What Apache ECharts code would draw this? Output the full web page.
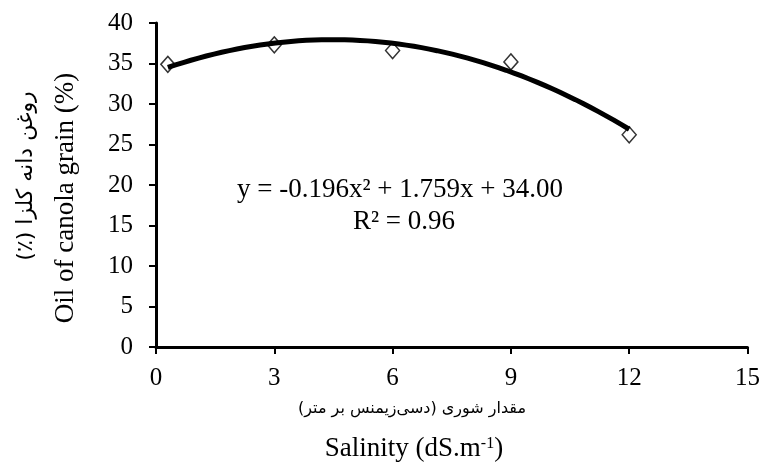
<!DOCTYPE html>
<html>
<head>
<meta charset="utf-8">
<script src="https://cdn.jsdelivr.net/npm/echarts@6/dist/echarts.min.js"></script>
<style>html,body{margin:0;padding:0;background:#fff}#c{width:763px;height:472px}</style>
</head>
<body>
<div id="c"></div>
<script>
const salinity = [0.3, 3, 6, 9, 12];
const oil = [34.9, 37.3, 36.6, 35.2, 26.2];
// fitted trendline coefficients shown on chart: y = a x^2 + b x + c
const trendCoef = [-0.196, 1.759, 34.00];
const trendRange = [0.3, 12];

const scatterData = salinity.map((x, i) => [x, oil[i]]);
const trendData = [];
for (let k = 0; k <= 60; k++) {
  const x = trendRange[0] + (trendRange[1] - trendRange[0]) * k / 60;
  trendData.push([x, trendCoef[0] * x * x + trendCoef[1] * x + trendCoef[2]]);
}

const serif = '"Liberation Serif", "Times New Roman", serif';
const arabicFont = '"DejaVu Sans", "Noto Sans", sans-serif';
const RLM = '\u200F';
const chart = echarts.init(document.getElementById('c'));
chart.setOption({
  animation: false,
  grid: { left: 156, right: 14, top: 23, bottom: 125, containLabel: false },
  xAxis: {
    type: 'value', min: 0, max: 15, interval: 3,
    axisLine: { lineStyle: { color: '#000', width: 3 } },
    axisTick: { show: true, length: 7, lineStyle: { color: '#000', width: 2 } },
    axisLabel: { color: '#000', fontFamily: serif, fontSize: 25, margin: 19 },
    splitLine: { show: false }
  },
  yAxis: {
    type: 'value', min: 0, max: 40, interval: 5,
    axisLine: { show: true, lineStyle: { color: '#000', width: 3 } },
    axisTick: { show: true, length: 7, lineStyle: { color: '#000', width: 2 } },
    axisLabel: { color: '#000', fontFamily: serif, fontSize: 25, margin: 23 },
    splitLine: { show: false }
  },
  series: [
    {
      type: 'scatter', data: scatterData, symbol: 'diamond', symbolSize: [14, 16],
      itemStyle: { color: '#fff', borderColor: '#000', borderWidth: 1.5 }, z: 2
    },
    {
      type: 'line', data: trendData, showSymbol: false, smooth: false,
      lineStyle: { color: '#000', width: 5 }, z: 3
    }
  ],
  graphic: [
    { type: 'text', x: 400, y: 190, style: { text: 'y = -0.196x² + 1.759x + 34.00', font: '27px ' + serif, fill: '#000', textAlign: 'center', textVerticalAlign: 'middle' } },
    { type: 'text', x: 404, y: 222, style: { text: 'R² = 0.96', font: '27px ' + serif, fill: '#000', textAlign: 'center', textVerticalAlign: 'middle' } },
    { type: 'text', x: 66, y: 198, rotation: Math.PI / 2, style: { text: 'Oil of canola grain (%)', font: '27px ' + serif, fill: '#000', textAlign: 'center', textVerticalAlign: 'middle' } },
    { type: 'text', x: 26, y: 176, rotation: Math.PI / 2, style: { text: RLM + 'روغن دانه کلزا (٪)' + RLM, font: '22px ' + arabicFont, fill: '#000', textAlign: 'center', textVerticalAlign: 'middle' } },
    { type: 'text', x: 412, y: 409, style: { text: RLM + 'مقدار شوری (دسی‌زیمنس بر متر)' + RLM, font: '16px ' + arabicFont, fill: '#000', textAlign: 'center', textVerticalAlign: 'middle' } },
    { type: 'text', x: 414, y: 449, style: {
        text: '{a|Salinity (dS.m}{s|-1}{a|)}',
        rich: {
          a: { fontFamily: serif, fontSize: 27, color: '#000', verticalAlign: 'bottom' },
          s: { fontFamily: serif, fontSize: 16, color: '#000', verticalAlign: 'top' }
        },
        textAlign: 'center', textVerticalAlign: 'middle'
      } }
  ]
});
</script>
</body>
</html>
